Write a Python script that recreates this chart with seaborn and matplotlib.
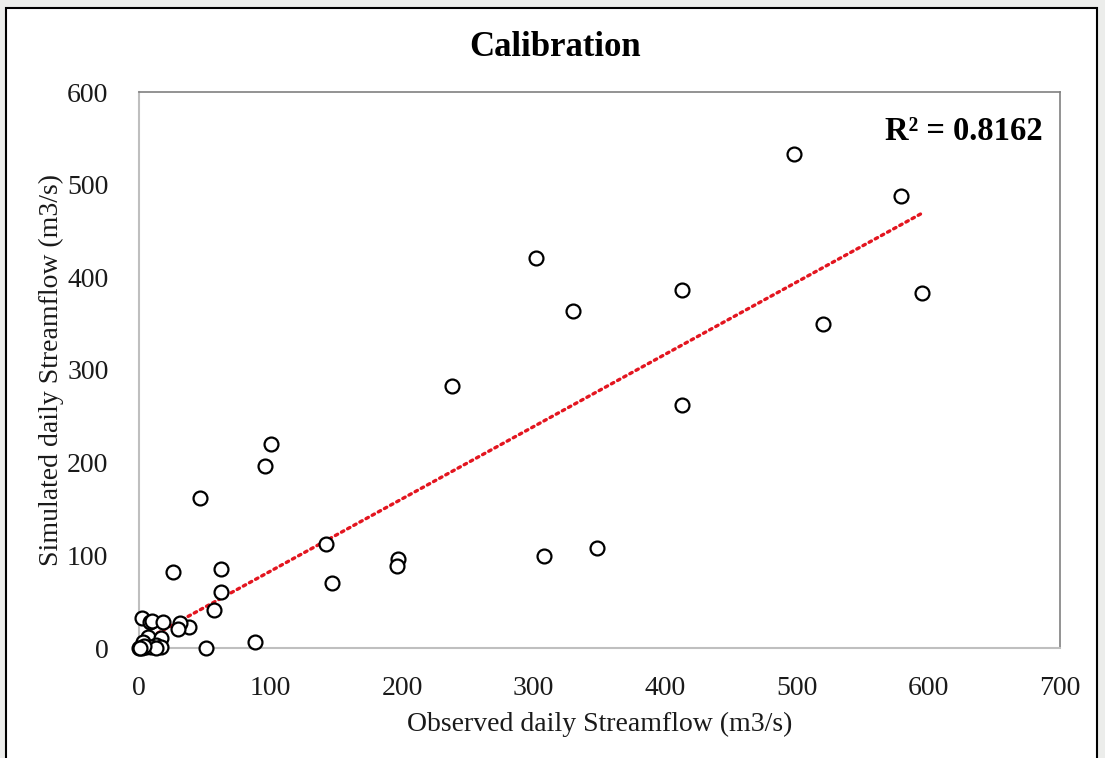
import numpy as np
import pandas as pd
import matplotlib
matplotlib.use("Agg")
import matplotlib.pyplot as plt
import seaborn as sns
from matplotlib.patches import Rectangle

# ---- data ----
observed = [498, 579, 595, 520, 413, 413, 330, 302, 238, 348, 308, 197, 196,
            147, 142, 100, 96, 46, 62, 62, 57, 26, 38, 31, 30, 88, 51,
            2, 8, 10, 18, 7, 17, 3, 2, 0, 13, 17, 5, 9, 13, 4, 1]
simulated = [533, 488, 383, 350, 386, 262, 364, 421, 283, 108, 99, 96, 88,
             70, 112, 220, 196, 162, 85, 60, 41, 82, 23, 27, 21, 7, 0,
             32, 28, 29, 28, 12, 11, 6, 0, 0, 3, 1, 1, 1, 0, 2, 0]
trend_slope = 0.78
trend_intercept = 5.0
r2_label = "R² = 0.8162"
x_ticks = [0, 100, 200, 300, 400, 500, 600, 700]
y_ticks = [0, 100, 200, 300, 400, 500, 600]

df = pd.DataFrame({"obs": observed, "sim": simulated})
trend_x = np.array([min(observed), max(observed)], dtype=float)
trend_df = pd.DataFrame({"obs": trend_x, "sim": trend_slope * trend_x + trend_intercept})

sns.set_theme(style="white")
plt.rcParams["font.family"] = ["Liberation Serif", "DejaVu Serif"]

fig = plt.figure(figsize=(11.05, 7.58), dpi=100)
fig.patch.set_facecolor("#ECEDEB")
# white chart box with black border (behind the axes)
fig.patches.append(Rectangle((6 / 1105, -0.01), (1097 - 6) / 1105, 1 - 8 / 758 + 0.01,
                             transform=fig.transFigure, facecolor="white",
                             edgecolor="black", linewidth=1.5, zorder=-5))

ax = fig.add_axes([139 / 1105, 1 - 648 / 758, (1060 - 139) / 1105, (648 - 92) / 758])
ax.set_facecolor("white")
ax.set_zorder(2)

sns.lineplot(data=trend_df, x="obs", y="sim", ax=ax, color="#E3151F",
             linewidth=2.4, linestyle=(0, (0.8, 1.3)), dash_capstyle="round", zorder=2)
sns.scatterplot(data=df, x="obs", y="sim", ax=ax, s=100, facecolor="white",
                edgecolor="black", linewidth=1.6, marker="o", zorder=3, clip_on=False)

ax.set_xlim(0, 700)
ax.set_ylim(0, 600)
ax.set_xticks(x_ticks)
ax.set_yticks(y_ticks)
ax.tick_params(axis="both", length=0, labelsize=20, colors="#1a1a1a")
ax.tick_params(axis="x", pad=20)
ax.tick_params(axis="y", pad=22)
for s in ["left", "bottom"]:
    ax.spines[s].set_color("#BFBFBF")
    ax.spines[s].set_linewidth(1.5)
for s in ["top", "right"]:
    ax.spines[s].set_color("#808080")
    ax.spines[s].set_linewidth(1.2)
ax.grid(False)

ax.set_xlabel("Observed daily Streamflow (m3/s)", fontsize=20, color="#1a1a1a", labelpad=8)
ax.set_ylabel("Simulated daily Streamflow (m3/s)", fontsize=20, color="#1a1a1a", labelpad=2)

fig.text(555 / 1105, 1 - 48 / 758, "Calibration", ha="center", va="center",
         fontsize=25, fontweight="bold", color="black", zorder=5)
fig.text(885 / 1105, 1 - 131 / 758, r2_label, ha="left", va="center",
         fontsize=23.5, fontweight="bold", color="black", zorder=5)

fig.savefig("out.png", dpi=100, facecolor=fig.get_facecolor())
